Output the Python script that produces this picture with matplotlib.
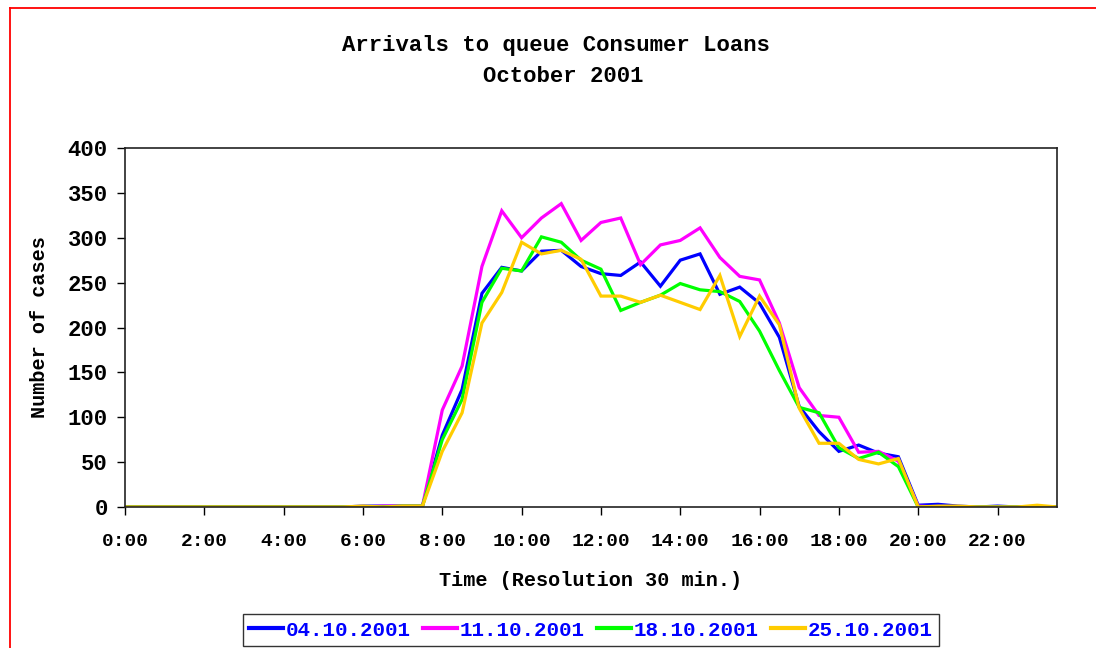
import matplotlib
matplotlib.use("Agg")
import matplotlib.pyplot as plt
from matplotlib.lines import Line2D
import numpy as np

plt.rcParams['font.family'] = ['Liberation Mono', 'DejaVu Sans Mono']
plt.rcParams['font.weight'] = 'bold'

# half-hour slots 0:00 .. 23:30
slots = np.arange(48)
tick_pos = np.arange(0, 48, 4)
tick_labels = ["%d:00" % h for h in range(0, 24, 2)]

dates = ["04.10.2001", "11.10.2001", "18.10.2001", "25.10.2001"]
colors = ["#0000FF", "#FF00FF", "#00FF00", "#FFCC00"]

night = [0] * 12
d04 = night + [1, 1, 1, 1, 80, 131, 238, 267, 263, 285, 286, 268, 260, 258, 273, 246,
               275, 282, 237, 245, 227, 189, 112, 84, 62, 69, 60, 56, 2, 3, 1, 0, 1, 0, 0, 0]
d11 = night + [0, 1, 1, 1, 108, 157, 268, 330, 300, 322, 338, 297, 317, 322, 270, 292,
               297, 311, 278, 257, 253, 205, 133, 102, 100, 61, 62, 51, 1, 0, 0, 0, 0, 0, 0, 0]
d18 = night + [0, 0, 1, 1, 75, 120, 228, 266, 263, 301, 295, 275, 265, 219, 228, 236,
               249, 242, 240, 229, 196, 152, 111, 105, 66, 54, 61, 45, 0, 0, 0, 0, 0, 0, 0, 0]
d25 = night + [1, 0, 1, 1, 62, 105, 205, 239, 295, 282, 286, 276, 235, 235, 228, 236,
               228, 220, 258, 190, 235, 203, 110, 71, 71, 53, 48, 54, 0, 1, 1, 0, 0, 0, 2, 0]
series = [d04, d11, d18, d25]

fig = plt.figure(figsize=(10.96, 6.48), dpi=100)
ax = fig.add_axes([125 / 1096, 1 - 507 / 648, (1057 - 125) / 1096, (507 - 148) / 648])

for vals, c, lab in zip(series, colors, dates):
    ax.plot(slots, vals, color=c, lw=2.3, label=lab, solid_joinstyle='miter')

ax.set_xlim(0, 47)
ax.set_ylim(0, 400)
ax.set_yticks(range(0, 401, 50))
ax.set_xticks(tick_pos)
ax.set_xticklabels(tick_labels)
ax.tick_params(direction='out', length=5.5, width=1)
ax.tick_params(axis='x', labelsize=14, pad=13)
ax.tick_params(axis='y', labelsize=16, pad=7)
for s in ax.spines.values():
    s.set_linewidth(1.2)
    s.set_color('#222222')

ax.set_xlabel("Time (Resolution 30 min.)", fontsize=14.5, fontweight='bold')
ax.set_ylabel("Number of cases", fontsize=14.5, fontweight='bold')
ax.xaxis.set_label_coords(0.5, (507 - 580) / 359, transform=ax.transAxes)
ax.yaxis.set_label_coords((40 - 125) / 932, 0.5, transform=ax.transAxes)
ax.xaxis.label.set_va('center')
ax.yaxis.label.set_va('center')

fig.text(556 / 1096, 1 - 45 / 648, "Arrivals to queue Consumer Loans",
         ha='center', va='center', fontsize=16, fontweight='bold')
fig.text(563 / 1096, 1 - 76 / 648, "October 2001",
         ha='center', va='center', fontsize=16, fontweight='bold')

leg = fig.legend(loc='center', bbox_to_anchor=(591 / 1096, 1 - 630 / 648), ncol=4,
                 frameon=True, fancybox=False, handlelength=1.6, handletextpad=0.15,
                 columnspacing=0.6, borderpad=0.3, prop={'size': 15, 'weight': 'bold'})
leg.get_frame().set_edgecolor('black')
leg.get_frame().set_linewidth(1.0)
for t in leg.get_texts():
    t.set_color('#0000FF')
for h in leg.legend_handles:
    h.set_linewidth(3)

# red page border (left and top)
fig.add_artist(Line2D([10 / 1096, 10 / 1096], [0, 1 - 8 / 648], color='red', lw=1.3))
fig.add_artist(Line2D([10 / 1096, 1], [1 - 8 / 648, 1 - 8 / 648], color='red', lw=1.3))

fig.savefig("out.png", dpi=100)
